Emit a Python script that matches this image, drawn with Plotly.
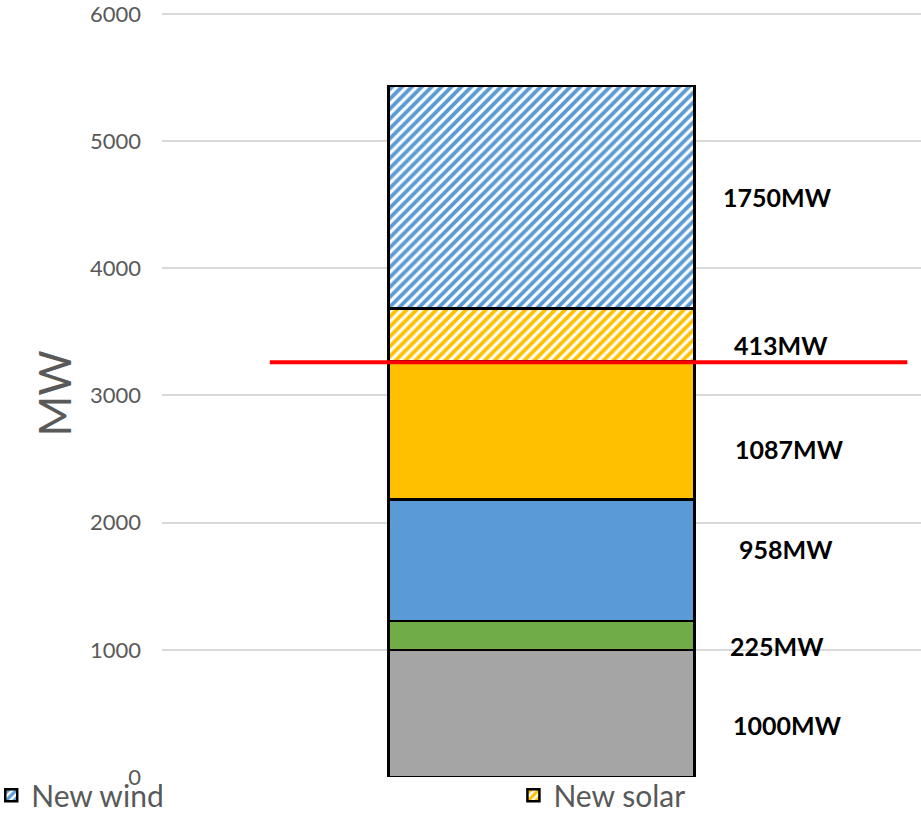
import plotly.graph_objects as go

# Capacity stack (MW), bottom to top
categories = ["Total"]
segment_names = ["Existing", "Hydro", "Wind", "Solar", "New solar", "New wind"]
segment_values = [1000, 225, 958, 1087, 413, 1750]
segment_labels = ["1000MW", "225MW", "958MW", "1087MW", "413MW", "1750MW"]
limit_mw = 3260
y_ticks = [0, 1000, 2000, 3000, 4000, 5000, 6000]

colors = ["#A5A5A5", "#70AD47", "#5B9BD5", "#FFC000", "#FFC000", "#5B9BD5"]
hatched = [False, False, False, False, True, True]
in_legend = [False, False, False, False, True, True]
legend_ids = ["legend", "legend", "legend", "legend", "legend2", "legend"]
label_dy = [-12, -11, 11, -19, -10, 0]
label_dx = [5, -6, 3, 7, -2, -5]

fig = go.Figure()
for name, val, col, hat, leg, lid in zip(segment_names, segment_values, colors,
                                          hatched, in_legend, legend_ids):
    marker = dict(color="white" if hat else col,
                  line=dict(color="black", width=2.5))
    if hat:
        marker["pattern"] = dict(shape="/", fgcolor=col, bgcolor="white",
                                 fgopacity=1, size=7, solidity=0.55,
                                 fillmode="replace")
    fig.add_trace(go.Bar(x=categories, y=[val], name=name, marker=marker,
                         showlegend=leg, legend=lid, hoverinfo="skip"))

# value labels beside each segment
base = 0
for val, lab, dy, dx in zip(segment_values, segment_labels, label_dy, label_dx):
    fig.add_annotation(x=0.818, xref="paper", y=base + val / 2, yref="y",
                       text=lab, showarrow=False, xanchor="center",
                       xshift=dx, yshift=dy,
                       font=dict(family="Lato", size=25, color="black",
                                 weight="bold"))
    base += val

# capacity limit line
fig.add_shape(type="line", xref="paper", yref="y", x0=0.142, x1=0.982,
              y0=limit_mw, y1=limit_mw, line=dict(color="#FF0000", width=4))

fig.add_annotation(x=-0.141, xref="paper", xshift=-29, y=0.5, yref="paper",
                   text="MW", textangle=-90, showarrow=False,
                   font=dict(family="Lato", size=44, color="#595959"))

legend_style = dict(orientation="h", xanchor="left", y=0.01, yanchor="top",
                    font=dict(family="Lato", size=30, color="#595959"),
                    itemwidth=30, bgcolor="rgba(0,0,0,0)")

fig.update_layout(
    width=921, height=816,
    margin=dict(l=162, r=0, t=10, b=39, autoexpand=False),
    plot_bgcolor="white", paper_bgcolor="white",
    barmode="stack", bargap=0.597,
    showlegend=True,
    legend=dict(x=-0.225, **legend_style),
    legend2=dict(x=0.463, **legend_style),
    xaxis=dict(showticklabels=False, showgrid=False, zeroline=False,
               showline=False, fixedrange=True),
    yaxis=dict(range=[0, 6030], tickvals=y_ticks, showgrid=True,
               gridcolor="#D9D9D9", gridwidth=1.5, zeroline=False,
               showline=False, ticklabelstandoff=20,
               ticklabeloverflow="allow",
               tickfont=dict(family="Lato", size=22, color="#595959")),
)

fig.write_html("out.html")
